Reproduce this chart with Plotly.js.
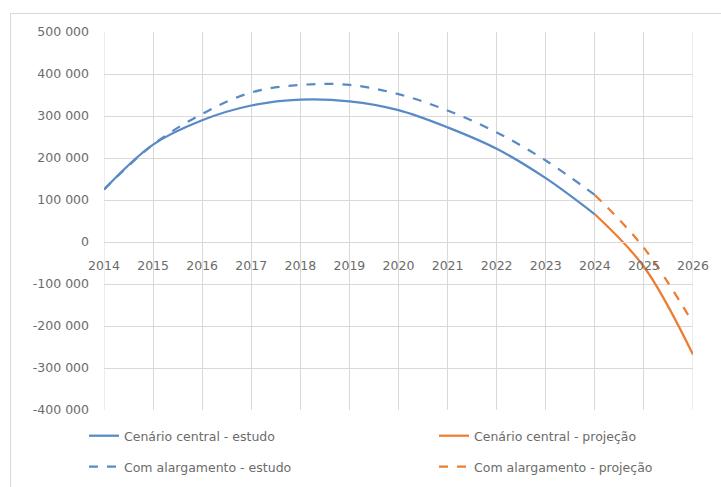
<!DOCTYPE html>
<html><head><meta charset="utf-8">
<script src="https://cdn.plot.ly/plotly-3.0.1.min.js"></script>
<style>
html,body{margin:0;padding:0;background:#fff;}
#frame{position:absolute;left:10px;top:13px;width:720px;height:480px;border:1px solid #d9d9d9;box-sizing:border-box;}
#chart{position:absolute;left:0;top:0;width:721px;height:487px;}
</style></head>
<body>
<div id="frame"></div>
<div id="chart"></div>
<script>
const yearsStudy = [2014,2015,2016,2017,2018,2019,2020,2021,2022,2023,2024];
const centralStudy = [125000,232000,290000,325000,339000,335000,314000,273000,222000,152000,66000];
const wideStudy = [125000,232000,305000,356000,374000,374000,352000,313000,261000,194000,112000];
const yearsProj = [2024,2025,2026];
const centralProj = [66000,-59000,-268000];
const wideProj = [112000,-14000,-193000];
const yTickVals = [500000,400000,300000,200000,100000,0,-100000,-200000,-300000,-400000];
const yTickText = ["500 000","400 000","300 000","200 000","100 000","0","-100 000","-200 000","-300 000","-400 000"];
const xTickVals = [2014,2015,2016,2017,2018,2019,2020,2021,2022,2023,2024,2025,2026];
const names = ["Cenário central - estudo","Cenário central - projeção","Com alargamento - estudo","Com alargamento - projeção"];

const blue = '#5A8AC6', orange = '#ED7D31';
const traces = [
 {x:yearsStudy,y:centralStudy,name:names[0],mode:'lines',line:{color:blue,width:2.25,shape:'spline'},legend:'legend'},
 {x:yearsProj,y:centralProj,name:names[1],mode:'lines',line:{color:orange,width:2.25,shape:'spline'},legend:'legend2'},
 {x:yearsStudy,y:wideStudy,name:names[2],mode:'lines',line:{color:blue,width:2.25,dash:'dash',shape:'spline'},legend:'legend3'},
 {x:yearsProj,y:wideProj,name:names[3],mode:'lines',line:{color:orange,width:2.25,dash:'dash',shape:'spline'},legend:'legend4'}
];
const font = {family:'"DejaVu Sans", sans-serif', size:12.5, color:'#6b6b6b'};
function leg(x,y){return {x:x,xanchor:'left',y:y,yanchor:'middle',font:font,bgcolor:'rgba(0,0,0,0)',borderwidth:0};}
const layout = {
 width:721,height:487,
 margin:{l:104,r:28,t:32,b:77,autoexpand:false},
 paper_bgcolor:'rgba(0,0,0,0)',plot_bgcolor:'rgba(0,0,0,0)',
 font:font,
 showlegend:true,
 xaxis:{range:[2014,2026],tickvals:xTickVals,showgrid:true,gridcolor:'#d9d9d9',gridwidth:1,
   zeroline:false,showline:true,linecolor:'#d9d9d9',anchor:'free',position:4/9,
   ticks:'',ticklabelstandoff:12,tickfont:font,automargin:false},
 yaxis:{range:[-400000,500000],tickvals:yTickVals,ticktext:yTickText,showgrid:true,gridcolor:'#d9d9d9',
   zeroline:false,showline:false,ticks:'',ticklabelstandoff:14,tickfont:font,automargin:false},
 shapes:[
  {type:'line',xref:'x',yref:'paper',x0:2026,x1:2026,y0:0,y1:1,line:{color:'#d9d9d9',width:1},layer:'below'},
  {type:'line',xref:'x',yref:'paper',x0:2014,x1:2014,y0:0,y1:1,line:{color:'#d9d9d9',width:1},layer:'below'}
 ],
 legend:leg(-0.034,-0.069),
 legend2:leg(0.5603,-0.069),
 legend3:leg(-0.034,-0.151),
 legend4:leg(0.5603,-0.151)
};
Plotly.newPlot('chart',traces,layout,{displayModeBar:false,staticPlot:true});
</script>
</body></html>
